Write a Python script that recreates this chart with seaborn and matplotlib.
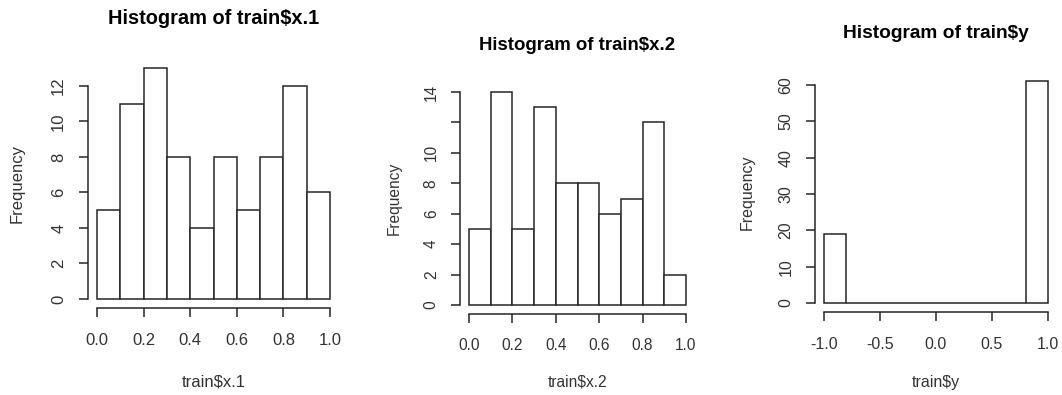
import matplotlib
matplotlib.use("Agg")
import matplotlib.pyplot as plt
import seaborn as sns
import numpy as np
import pandas as pd

# histogram counts (R style hist output)
x1_breaks = [0.0, 0.1, 0.2, 0.3, 0.4, 0.5, 0.6, 0.7, 0.8, 0.9, 1.0]
x1_counts = [5, 11, 13, 8, 4, 8, 5, 8, 12, 6]

x2_breaks = [0.0, 0.1, 0.2, 0.3, 0.4, 0.5, 0.6, 0.7, 0.8, 0.9, 1.0]
x2_counts = [5, 14, 5, 13, 8, 8, 6, 7, 12, 2]

y_breaks = [-1.0, -0.8, -0.6, -0.4, -0.2, 0.0, 0.2, 0.4, 0.6, 0.8, 1.0]
y_counts = [19, 0, 0, 0, 0, 0, 0, 0, 0, 61]

x1_ticks = [0.0, 0.2, 0.4, 0.6, 0.8, 1.0]
x2_ticks = [0.0, 0.2, 0.4, 0.6, 0.8, 1.0]
y_ticks_x = [-1.0, -0.5, 0.0, 0.5, 1.0]
x1_yticks = [0, 2, 4, 6, 8, 10, 12]
x2_yticks = [0, 2, 4, 6, 8, 10, 12, 14]
x2_ylabels = ["0", "2", "4", "6", "8", "10", "", "14"]
y_yticks = [0, 10, 20, 30, 40, 50, 60]

W, H = 1062, 395
INK = "#262626"

sns.set_style("white")
plt.rcParams["font.family"] = ["Liberation Sans", "DejaVu Sans"]

fig = plt.figure(figsize=(W / 100, H / 100), dpi=100)
fig.patch.set_facecolor("white")

panels = [
    # box in pixels: left, top, right, bottom ; s = font scale of that panel
    dict(breaks=x1_breaks, counts=x1_counts, xt=x1_ticks, yt=x1_yticks, yl=None,
         xlim=(-0.04, 1.04), ylim=(-0.52, 13.52), box=(87.7, 59, 339.3, 308.2),
         s=1.0, title_y=19, ylab_x=17, name="train$x.1"),
    dict(breaks=x2_breaks, counts=x2_counts, xt=x2_ticks, yt=x2_yticks, yl=x2_ylabels,
         xlim=(-0.04, 1.04), ylim=(-0.56, 14.56), box=(460.3, 83.5, 694.7, 313.5),
         s=0.93, title_y=45, ylab_x=394, name="train$x.2"),
    dict(breaks=y_breaks, counts=y_counts, xt=y_ticks_x, yt=y_yticks, yl=None,
         xlim=(-1.08, 1.08), ylim=(-2.44, 63.44), box=(815, 72.5, 1056.9, 311.9),
         s=0.96, title_y=33, ylab_x=747, name="train$y"),
]

for p in panels:
    l, t, r, b = p["box"]
    ax = fig.add_axes([l / W, 1 - b / H, (r - l) / W, (b - t) / H])
    br = p["breaks"]
    mids = [(br[i] + br[i + 1]) / 2 for i in range(len(br) - 1)]
    df = pd.DataFrame({"mid": mids, "count": p["counts"]})
    sns.histplot(data=df, x="mid", weights="count", bins=list(br), ax=ax,
                 color="white", edgecolor=INK, linewidth=1.1, alpha=1)
    ax.set_xlim(*p["xlim"])
    ax.set_ylim(*p["ylim"])
    ax.set_facecolor("white")

    for side in ["top", "right"]:
        ax.spines[side].set_visible(False)
    ax.spines["left"].set_bounds(p["yt"][0], p["yt"][-1])
    ax.spines["bottom"].set_bounds(p["xt"][0], p["xt"][-1])
    for side in ["left", "bottom"]:
        ax.spines[side].set_color(INK)
        ax.spines[side].set_linewidth(1.1)

    fs = 12 * p["s"]
    ax.set_xticks(p["xt"])
    ax.set_xticklabels([f"{v:.1f}" for v in p["xt"]])
    ax.set_yticks(p["yt"])
    ax.set_yticklabels(p["yl"] if p["yl"] else [str(v) for v in p["yt"]],
                       rotation=90, va="center")
    ax.tick_params(axis="both", direction="out", length=6.5, width=1.1,
                   color=INK, labelcolor="#333333", labelsize=fs,
                   left=True, bottom=True)
    ax.tick_params(axis="x", pad=11.5)
    ax.tick_params(axis="y", pad=9)

    ax.set_xlabel(p["name"], fontsize=fs, color="#333333")
    ax.set_ylabel("Frequency", fontsize=fs, color="#333333")
    ax.xaxis.set_label_coords(0.5, (b - 382) / (b - t))
    ax.yaxis.set_label_coords((p["ylab_x"] - l) / (r - l), 0.5)
    ax.xaxis.label.set_va("center")
    ax.yaxis.label.set_va("center")

    fig.text((l + r) / 2 / W, 1 - p["title_y"] / H, "Histogram of " + p["name"],
             ha="center", va="center", fontsize=14.4 * p["s"], fontweight="bold",
             color="black")

fig.savefig("out.png", dpi=100, facecolor="white")
